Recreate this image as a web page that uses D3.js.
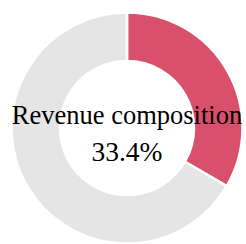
<!DOCTYPE html>
<html><head><meta charset="utf-8">
<script src="https://cdn.jsdelivr.net/npm/d3@7"></script>
<style>html,body{margin:0;padding:0;background:#fff;overflow:hidden}</style>
</head><body>
<svg id="c" width="246" height="244"></svg>
<script>
const categories = ["Revenue composition", "Other"];
const values = [33.4, 66.6];
const title = "Revenue composition";
const label = "33.4%";
const colors = ["#d9506c", "#e5e5e5"];

const svg = d3.select("#c");
const cx = 127, cy = 128, rOuter = 115.5, rInner = 67;
const g = svg.append("g").attr("transform", `translate(${cx},${cy})`);
const pie = d3.pie().sort(null).value(d => d)(values);
const arc = d3.arc().innerRadius(rInner).outerRadius(rOuter);
const color = d3.scaleOrdinal().domain(categories).range(colors);
g.selectAll("path").data(pie).join("path")
  .attr("d", arc)
  .attr("fill", (d, i) => color(categories[i]))
  .attr("stroke", "#fff").attr("stroke-width", 2.5);
g.append("text").attr("x", 0).attr("y", -4).attr("text-anchor", "middle")
  .attr("font-family", "'Liberation Serif', 'Times New Roman', serif").attr("font-size", 26.5)
  .attr("fill", "#000").text(title);
g.append("text").attr("x", 0).attr("y", 33).attr("text-anchor", "middle")
  .attr("font-family", "'Liberation Serif', 'Times New Roman', serif").attr("font-size", 27.5)
  .attr("fill", "#000").text(label);
</script>
</body></html>
